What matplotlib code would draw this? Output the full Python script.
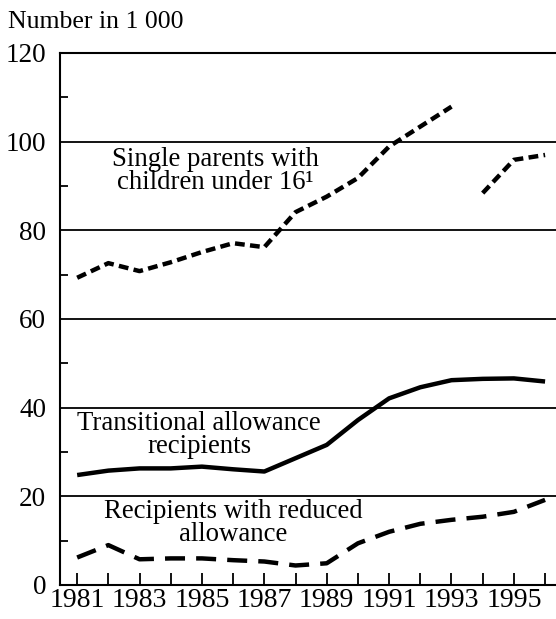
import matplotlib
matplotlib.use("Agg")
import matplotlib.pyplot as plt
import numpy as np

plt.rcParams['font.family'] = ['Liberation Serif', 'DejaVu Serif']

years = list(range(1981, 1997))
single_a_years = list(range(1981, 1994))
single_a = [69.3, 72.6, 70.8, 72.8, 75.1, 77.1, 76.2, 84.1, 87.6, 91.8, 98.9, 103.4, 107.9]
single_b_years = [1994, 1995, 1996]
single_b = [88.4, 95.9, 97.0]
transitional = [24.8, 25.8, 26.3, 26.3, 26.7, 26.1, 25.6, 28.6, 31.6, 37.2, 42.1, 44.6, 46.2, 46.5, 46.6, 45.9]
reduced = [6.2, 9.0, 5.8, 6.0, 6.0, 5.6, 5.3, 4.4, 4.9, 9.4, 12.0, 13.8, 14.7, 15.4, 16.5, 19.2]
xlabels = ['1981', '1983', '1985', '1987', '1989', '1991', '1993', '1995']
yticks = [0, 20, 40, 60, 80, 100, 120]

fig = plt.figure(figsize=(5.56, 6.19), dpi=100)
ax = fig.add_axes([60/556, 34/619, 1 - 60/556, (585-53)/619])

for y in [20, 40, 60, 80, 100]:
    ax.axhline(y, color='black', lw=1.3, zorder=1)

ax.plot(single_a_years, single_a, color='black', lw=3.2, dashes=(2.2, 1.2), zorder=3)
ax.plot(single_b_years, single_b, color='black', lw=3.2, dashes=(2.2, 1.2), zorder=3)
ax.plot(years, transitional, color='black', lw=3.2, solid_capstyle='butt', zorder=3)
ax.plot(years, reduced, color='black', lw=3.2, dashes=(4.5, 2.5), zorder=3)

ax.set_xlim(1980.45, 1996.35)
ax.set_ylim(0, 120)
ax.set_yticks(yticks)
ax.set_yticks([10, 30, 50, 70, 90, 110], minor=True)
ax.set_xticks(years)
ax.set_xticklabels([str(y) if str(y) in xlabels else '' for y in years])
ax.tick_params(axis='x', direction='in', length=9, width=1.3, labelsize=20, pad=2)
ax.tick_params(axis='y', which='major', length=0, labelsize=19.5, pad=10)
ax.tick_params(axis='y', which='minor', direction='in', length=6, width=1.3)
ax.spines['right'].set_visible(False)
for s in ['left', 'bottom', 'top']:
    ax.spines[s].set_linewidth(1.5)

ax.text((215-60)/496, (585-171)/532, 'Single parents with\nchildren under 16¹', transform=ax.transAxes,
        ha='center', va='center', fontsize=19.3, linespacing=0.92)
ax.text((199-60)/496, (585-435)/532, 'Transitional allowance\nrecipients', transform=ax.transAxes,
        ha='center', va='center', fontsize=19.3, linespacing=0.92)
ax.text((233-60)/496, (585-523)/532, 'Recipients with reduced\nallowance', transform=ax.transAxes,
        ha='center', va='center', fontsize=19.3, linespacing=0.92)

fig.text(8/556, 1 - 22/619, 'Number in 1 000', ha='left', va='center', fontsize=18.5)

fig.savefig('out.png', dpi=100)
